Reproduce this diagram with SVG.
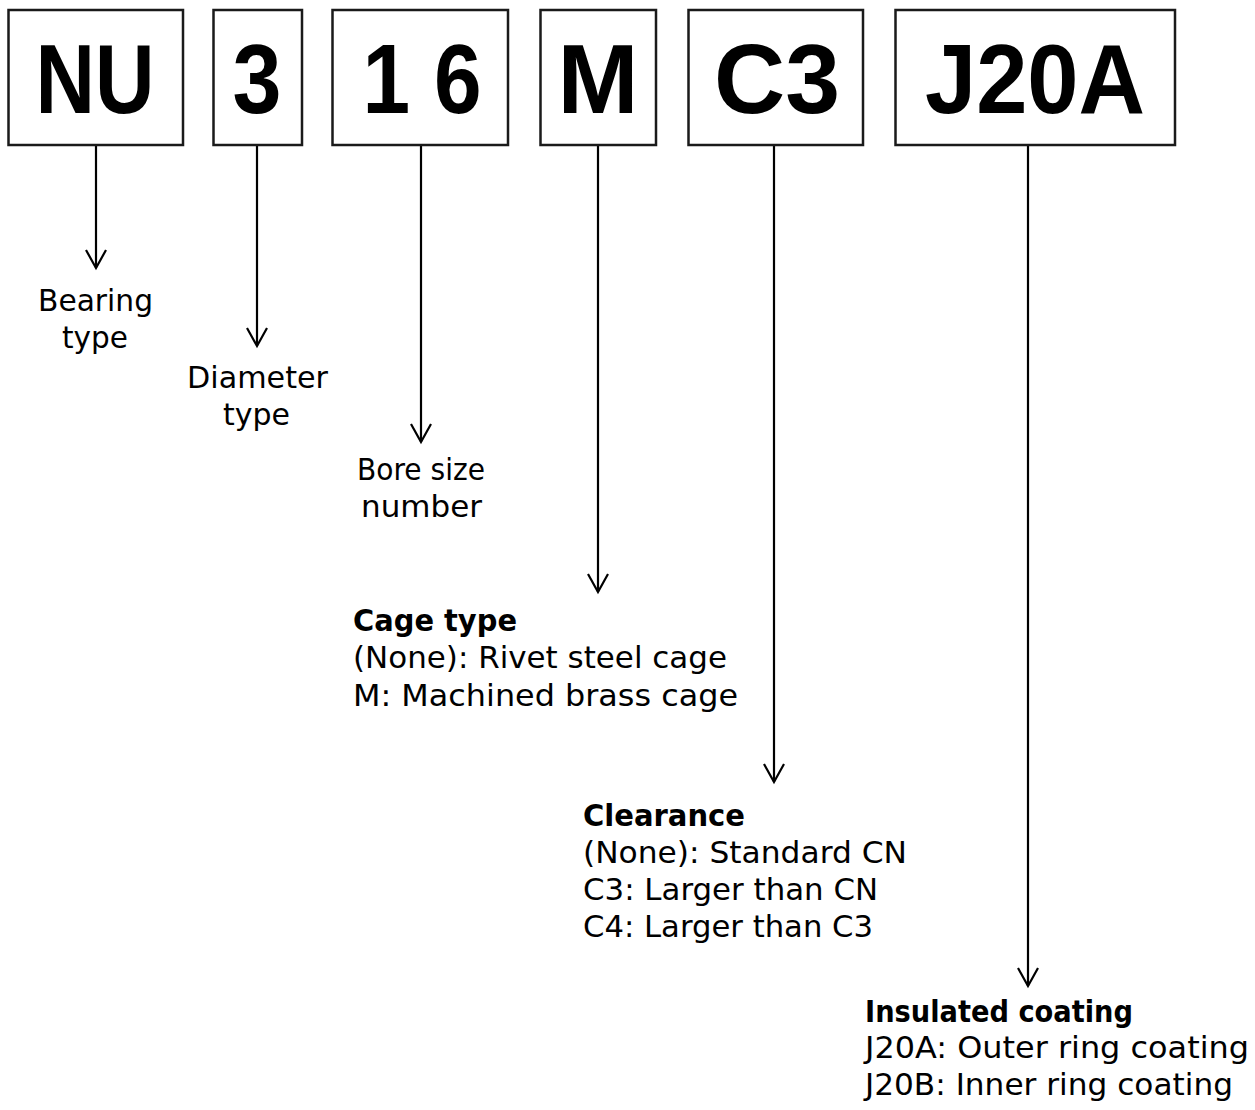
<svg xmlns="http://www.w3.org/2000/svg" width="1255" height="1110" viewBox="0 0 1255 1110">
<style>
.box{fill:#fff;stroke:#1a1a1a;stroke-width:2.5}
.code{font-family:"Liberation Sans",Arial,sans-serif;font-weight:bold;font-size:98px;fill:#000}
.lbl{font-family:"DejaVu Sans","Liberation Sans",sans-serif;font-size:30px;fill:#000}
.hd{font-family:"DejaVu Sans","Liberation Sans",sans-serif;font-size:30px;font-weight:bold;fill:#000}
.c{text-anchor:middle}
.ln{stroke:#000;stroke-width:2.2;fill:none}
</style>
<defs>
<marker id="arr" markerUnits="userSpaceOnUse" markerWidth="26" markerHeight="26" viewBox="-22 -13 26 26" refX="0" refY="0" orient="auto">
<path d="M-18,-10 L0,0 L-18,10" fill="none" stroke="#000" stroke-width="2.2" stroke-linejoin="miter"/>
</marker>
</defs>
<rect width="1255" height="1110" fill="#fff"/>
<g id="connectors">
<line class="ln" x1="96" y1="145" x2="96" y2="268" marker-end="url(#arr)"/>
<line class="ln" x1="257" y1="145" x2="257" y2="346" marker-end="url(#arr)"/>
<line class="ln" x1="421" y1="145" x2="421" y2="442" marker-end="url(#arr)"/>
<line class="ln" x1="598" y1="145" x2="598" y2="592" marker-end="url(#arr)"/>
<line class="ln" x1="774" y1="145" x2="774" y2="782" marker-end="url(#arr)"/>
<line class="ln" x1="1028" y1="145" x2="1028" y2="986" marker-end="url(#arr)"/>
</g>
<g id="node-NU">
<rect class="box" x="8.5" y="10" width="174.5" height="135"/>
<text class="code c" x="95" y="113" textLength="119" lengthAdjust="spacingAndGlyphs">NU</text>
</g>
<g id="node-3">
<rect class="box" x="213.5" y="10" width="88.5" height="135"/>
<text class="code c" x="257" y="113" textLength="49" lengthAdjust="spacingAndGlyphs">3</text>
</g>
<g id="node-16">
<rect class="box" x="332.5" y="10" width="175.5" height="135"/>
<text class="code c" x="422" y="113" textLength="119" lengthAdjust="spacingAndGlyphs">1 6</text>
</g>
<g id="node-M">
<rect class="box" x="540.5" y="10" width="115.5" height="135"/>
<text class="code c" x="598" y="113" textLength="81" lengthAdjust="spacingAndGlyphs">M</text>
</g>
<g id="node-C3">
<rect class="box" x="688.5" y="10" width="174.5" height="135"/>
<text class="code c" x="777" y="113" textLength="126" lengthAdjust="spacingAndGlyphs">C3</text>
</g>
<g id="node-J20A">
<rect class="box" x="895.5" y="10" width="279.5" height="135"/>
<text class="code c" x="1035" y="113" textLength="220" lengthAdjust="spacingAndGlyphs">J20A</text>
</g>
<g id="label-bearing">
<text class="lbl c" x="95.5" y="311" textLength="115" lengthAdjust="spacingAndGlyphs">Bearing</text>
<text class="lbl c" x="95" y="348" textLength="66" lengthAdjust="spacingAndGlyphs">type</text>
</g>
<g id="label-diameter">
<text class="lbl c" x="257.5" y="388" textLength="141" lengthAdjust="spacingAndGlyphs">Diameter</text>
<text class="lbl c" x="256.5" y="425" textLength="67" lengthAdjust="spacingAndGlyphs">type</text>
</g>
<g id="label-bore">
<text class="lbl c" x="421" y="480" textLength="128" lengthAdjust="spacingAndGlyphs">Bore size</text>
<text class="lbl c" x="421.5" y="517" textLength="121" lengthAdjust="spacingAndGlyphs">number</text>
</g>
<g id="label-cage">
<text class="hd" x="353" y="631" textLength="164" lengthAdjust="spacingAndGlyphs">Cage type</text>
<text class="lbl" x="353" y="668" textLength="374" lengthAdjust="spacingAndGlyphs">(None): Rivet steel cage</text>
<text class="lbl" x="353" y="706" textLength="385" lengthAdjust="spacingAndGlyphs">M: Machined brass cage</text>
</g>
<g id="label-clearance">
<text class="hd" x="583" y="826" textLength="162" lengthAdjust="spacingAndGlyphs">Clearance</text>
<text class="lbl" x="583" y="863" textLength="324" lengthAdjust="spacingAndGlyphs">(None): Standard CN</text>
<text class="lbl" x="583" y="900" textLength="295" lengthAdjust="spacingAndGlyphs">C3: Larger than CN</text>
<text class="lbl" x="583" y="937" textLength="290" lengthAdjust="spacingAndGlyphs">C4: Larger than C3</text>
</g>
<g id="label-coating">
<text class="hd" x="865" y="1022" textLength="268" lengthAdjust="spacingAndGlyphs">Insulated coating</text>
<text class="lbl" x="865" y="1058" textLength="384" lengthAdjust="spacingAndGlyphs">J20A: Outer ring coating</text>
<text class="lbl" x="865" y="1095" textLength="368" lengthAdjust="spacingAndGlyphs">J20B: Inner ring coating</text>
</g>
</svg>
